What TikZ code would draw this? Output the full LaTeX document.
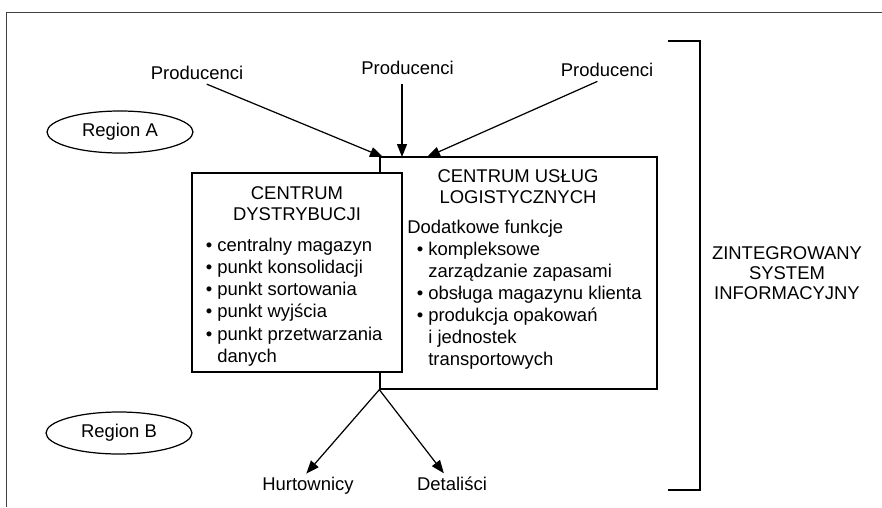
\documentclass[tikz,border=0pt]{standalone}
\usepackage{fontspec}
\setmainfont{Liberation Sans}
\usetikzlibrary{shapes.geometric,arrows.meta}

\tikzset{
  tekst/.style={font=\fontsize{10.5}{12}\selectfont, inner sep=0pt},
  pole/.style={draw, line width=0.8pt, fill=white, inner sep=0pt},
  region/.style={draw, ellipse, line width=0.7pt, inner sep=0pt,
    minimum width=2.92cm, minimum height=0.84cm, font=\fontsize{10.5}{12}\selectfont},
  strzalka/.style={-{Triangle[length=2.6mm,width=2mm]}, line width=0.7pt},
}

\begin{document}
\begin{tikzpicture}[x=0.02cm,y=-0.02cm] % 1 jednostka = 1 piksel
\useasboundingbox (0,0) rectangle (882,507);

%RAMKA
\draw [line width=0.5pt, black!75] (882,12) -- (6,12) -- (6,507);

%KLAMRA (z prawej)
\draw [line width=1.1pt] (668,41) -- (700,41) -- (700,490) -- (668,490);
\node [tekst, align=center, font=\fontsize{10.5}{11.4}\selectfont] (zis) at (787,273) {ZINTEGROWANY\\SYSTEM\\INFORMACYJNY};

%REGIONY
\node [region] (regA) at (120,132) {Region A};
\node [region] (regB) at (119,433) {Region B};

%CENTRUM USLUG LOGISTYCZNYCH
\node [pole, minimum width=5.54cm, minimum height=4.64cm] (cu) at (518.5,273) {};
\node [tekst, align=center] (cuTyt) at (518,187) {CENTRUM USŁUG\\LOGISTYCZNYCH};
\node [tekst, anchor=base west] (cu1) at (407,233) {Dodatkowe funkcje};
\node [tekst, anchor=base west] (cu2) at (416.4,255) {\textbullet{} kompleksowe};
\node [tekst, anchor=base west] (cu3) at (428,277) {zarządzanie zapasami};
\node [tekst, anchor=base west] (cu4) at (416.4,299) {\textbullet{} obsługa magazynu klienta};
\node [tekst, anchor=base west] (cu5) at (416.4,321) {\textbullet{} produkcja opakowań};
\node [tekst, anchor=base west] (cu6) at (428,343) {i jednostek};
\node [tekst, anchor=base west] (cu7) at (428,365) {transportowych};

%CENTRUM DYSTRYBUCJI
\node [pole, minimum width=4.2cm, minimum height=3.98cm] (cd) at (297,272.5) {};
\node [tekst, align=center] (cdTyt) at (297,204) {CENTRUM\\DYSTRYBUCJI};
\node [tekst, anchor=base west] (cd1) at (205.4,251) {\textbullet{} centralny magazyn};
\node [tekst, anchor=base west] (cd2) at (205.4,273.3) {\textbullet{} punkt konsolidacji};
\node [tekst, anchor=base west] (cd3) at (205.4,295.6) {\textbullet{} punkt sortowania};
\node [tekst, anchor=base west] (cd4) at (205.4,317.9) {\textbullet{} punkt wyjścia};
\node [tekst, anchor=base west] (cd5) at (205.4,340.2) {\textbullet{} punkt przetwarzania};
\node [tekst, anchor=base west] (cd6) at (217,362.5) {danych};

%PRODUCENCI (u gory)
\node [tekst] (prodL) at (197,73) {Producenci};
\node [tekst] (prodS) at (407.5,68) {Producenci};
\node [tekst] (prodP) at (607,70) {Producenci};
\coordinate (wej1) at (383,157);
\coordinate (wej2) at (402,157);
\coordinate (wej3) at (427,157);
\draw [strzalka, shorten <=6pt] (prodL.south) -- (wej1);
\draw [strzalka, shorten <=5pt] (prodS.south -| wej2) -- (wej2);
\draw [strzalka, shorten <=6pt] (prodP.south) -- (wej3);

%ODBIORCY (u dolu)
\node [tekst, anchor=base] (hurt) at (308,490) {Hurtownicy};
\node [tekst, anchor=base] (det) at (452,490) {Detaliści};
\draw [strzalka, shorten >=2pt] (cu.south west) -- ([xshift=-0.08cm]hurt.north);
\draw [strzalka, shorten >=2pt] (cu.south west) -- ([xshift=-0.12cm]det.north);

\end{tikzpicture}
\end{document}
